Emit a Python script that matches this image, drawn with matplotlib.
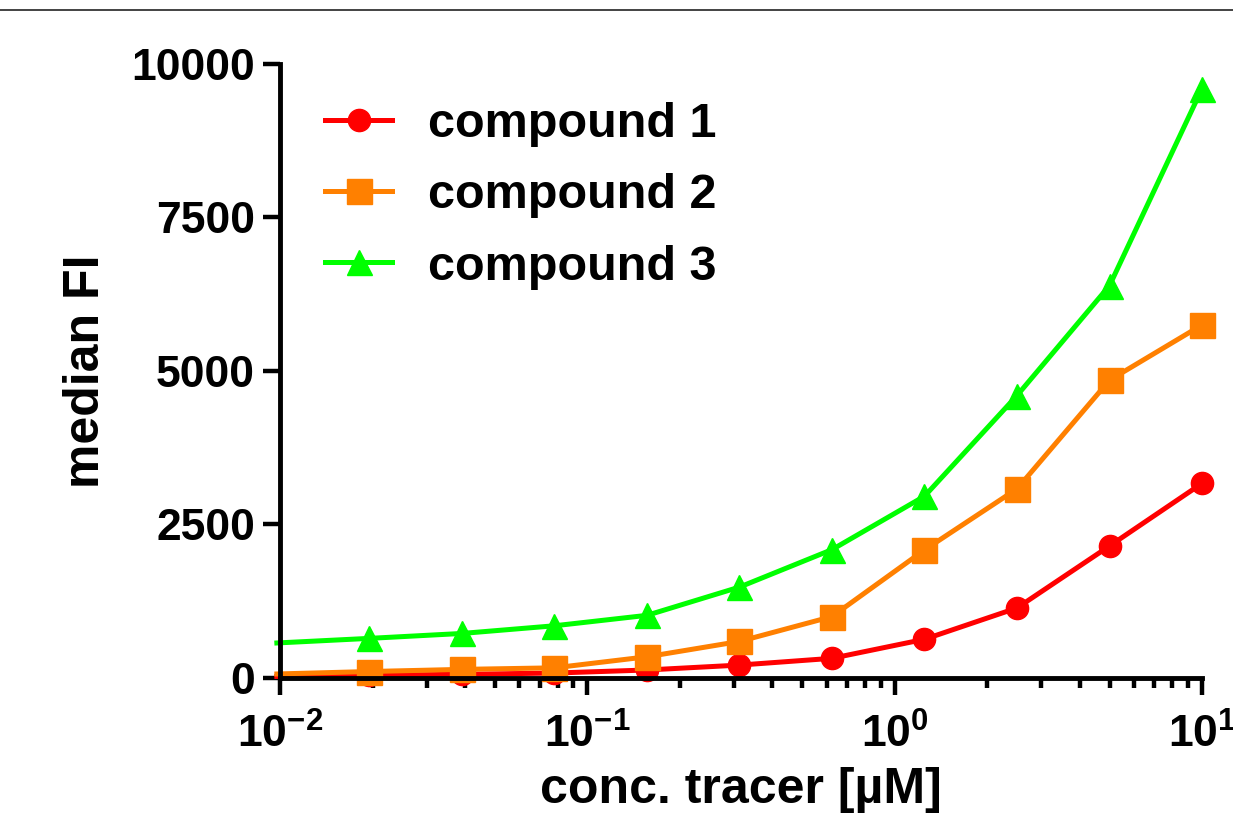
import math
import matplotlib
matplotlib.use('Agg')
import matplotlib.pyplot as plt
from matplotlib.ticker import FixedLocator, FuncFormatter, LogLocator, NullFormatter
from matplotlib.lines import Line2D

plt.rcParams['font.family'] = ['Liberation Sans', 'DejaVu Sans']
plt.rcParams['font.weight'] = 'bold'
plt.rcParams['mathtext.fontset'] = 'custom'
plt.rcParams['mathtext.rm'] = 'Liberation Sans:bold'
plt.rcParams['mathtext.bf'] = 'Liberation Sans:bold'
plt.rcParams['mathtext.it'] = 'Liberation Sans:bold'

# # # data
conc = [0.009765625, 0.01953125, 0.0390625, 0.078125, 0.15625, 0.3125,
        0.625, 1.25, 2.5, 5, 10]
compound_1 = [25, 45, 60, 80, 130, 210, 320, 630, 1140, 2150, 3170]
compound_2 = [65, 105, 140, 165, 345, 595, 1000, 2085, 3080, 4850, 5750]
compound_3 = [570, 645, 725, 850, 1020, 1480, 2090, 2960, 4600, 6390, 9600]

labels = ['compound 1', 'compound 2', 'compound 3']
colors = ['#ff0000', '#ff8000', '#00ff00']
markers = ['o', 's', '^']
msizes = [16, 18, 18]
y_ticks = [0, 2500, 5000, 7500, 10000]

fig = plt.figure(figsize=(12.33, 8.19), dpi=100)
ax = fig.add_axes([0.2271, 0.1722, 0.7478, 0.7497])

for ys, lab, c, m, ms in zip([compound_1, compound_2, compound_3], labels, colors, markers, msizes):
    # first point sits just left of the axis, only its line segment shows
    ax.plot(conc, ys, color=c, lw=3.6, marker=m, ms=ms, mec=c,
            markevery=list(range(1, len(conc))), label=lab, clip_on=False)

ax.set_xscale('log')
ax.set_xlim(0.01, 10)
ax.set_ylim(0, 10000)

ax.xaxis.set_major_locator(LogLocator(base=10, numticks=10))
ax.xaxis.set_minor_locator(LogLocator(base=10, subs=range(2, 10), numticks=20))
ax.xaxis.set_major_formatter(FuncFormatter(lambda v, p: r'$\mathbf{10^{%d}}$' % round(math.log10(v))))
ax.xaxis.set_minor_formatter(NullFormatter())
ax.yaxis.set_major_locator(FixedLocator(y_ticks))
ax.set_yticklabels([str(t) for t in y_ticks])

for s in ['top', 'right']:
    ax.spines[s].set_visible(False)
for s in ['left', 'bottom']:
    ax.spines[s].set_linewidth(3.5)

ax.tick_params(axis='both', which='major', length=12, width=3.2, labelsize=32, direction='out')
ax.tick_params(axis='x', which='minor', length=7, width=3.2, direction='out')
ax.tick_params(axis='x', which='major', pad=14)
ax.tick_params(axis='y', which='major', pad=6)

ax.set_xlabel('conc. tracer [µM]', fontsize=36, fontweight='bold', labelpad=7)
ax.set_ylabel('median FI', fontsize=36, fontweight='bold', labelpad=16)

leg = ax.legend(loc='upper left', bbox_to_anchor=(325 / 1233, 1 - 102 / 819),
                bbox_transform=fig.transFigure, frameon=False, fontsize=35,
                handlelength=1.38, handletextpad=0.74, labelspacing=0.54,
                borderpad=0, borderaxespad=0)

# thin rule across the top of the image
fig.add_artist(Line2D([0, 1], [1 - 10 / 819, 1 - 10 / 819], transform=fig.transFigure,
                      color='#222222', lw=1.2))

plt.savefig('out.png', dpi=100)
plt.close()
